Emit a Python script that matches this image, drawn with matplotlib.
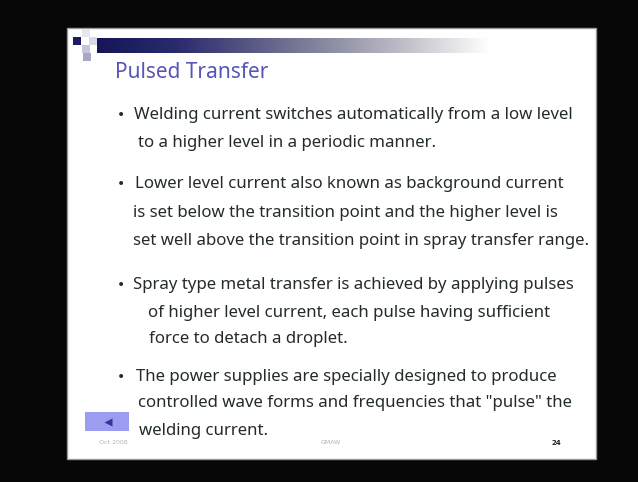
import numpy as np
import matplotlib.pyplot as plt
from matplotlib.colors import LinearSegmentedColormap
from matplotlib.patches import Rectangle

# ------------------------------------------
# Slide content
# ------------------------------------------
title = "Pulsed Transfer"

bullets = [
    ["Welding current switches automatically from a low level",
     "to a higher level in a periodic manner."],
    ["Lower level current also known as background current",
     "is set below the transition point and the higher level is",
     "set well above the transition point in spray transfer range."],
    ["Spray type metal transfer is achieved by applying pulses",
     "of higher level current, each pulse having sufficient",
     "force to detach a droplet."],
    ["The power supplies are specially designed to produce",
     "controlled wave forms and frequencies that \"pulse\" the",
     "welding current."],
]

# baselines (pixel rows) and left edges of each line
line_y = [[119, 147], [188, 217, 245], [289, 317, 343], [381, 407, 435]]
line_x = [[134, 138], [135, 133, 133], [133, 148, 149], [136, 138, 139]]

footer_left = "Oct 2008"
footer_mid = "GMAW"
page_no = "24"

# ------------------------------------------
# Figure in pixel coordinates
# ------------------------------------------
W, H = 638, 482
fig = plt.figure(figsize=(W / 100, H / 100), dpi=100, facecolor="#070707")
ax = fig.add_axes([0, 0, 1, 1])
ax.set_xlim(0, W)
ax.set_ylim(H, 0)
ax.axis("off")

# slide background
ax.add_patch(Rectangle((67, 28), 529, 431, facecolor="white", edgecolor="#9a9a9a", lw=1.0))

# decorative squares
squares = [
    ((73, 37), "#1c1c66"),
    ((82, 29), "#e6e6ee"),
    ((89, 37), "#d8d8e6"),
    ((82, 45), "#c4c4da"),
    ((83, 53), "#a6a6c6"),
]
for (sx, sy), c in squares:
    ax.add_patch(Rectangle((sx, sy), 8, 8, facecolor=c, edgecolor="none"))

# gradient header bar
cmap = LinearSegmentedColormap.from_list(
    "bar", ["#15155a", "#2a2a6e", "#5a5a86", "#8e8ea4", "#c4c4cc", "#ffffff"])
grad = np.linspace(0, 1, 256).reshape(1, -1)
ax.imshow(grad, cmap=cmap, aspect="auto", extent=(97, 490, 53, 38), zorder=2)

# title
ax.text(115, 78, title, fontsize=15, color="#5656b4", family="Noto Sans",
        va="baseline", ha="left")

# bullets
txt_color = "#242c26"
for lines, ys, xs in zip(bullets, line_y, line_x):
    ax.text(121, ys[0] - 4, "\u2022", fontsize=10, color=txt_color,
            va="center", ha="center", family="DejaVu Sans")
    for line, y, x in zip(lines, ys, xs):
        ax.text(x, y, line, fontsize=12.1, color=txt_color, family="Noto Sans",
                va="baseline", ha="left")

# nav button
ax.add_patch(Rectangle((85, 412), 44, 19, facecolor="#9c9cf0", edgecolor="none"))
ax.plot([108], [421.5], marker="<", markersize=6, color="#34349a", mec="none")

# footer
ax.text(99, 443, footer_left, fontsize=4.5, color="#aab8a8", va="center", ha="left")
ax.text(331, 443, footer_mid, fontsize=4.5, color="#aab8a8", va="center", ha="center")
ax.text(556, 443, page_no, fontsize=5, color="#222222", fontweight="bold",
        va="center", ha="center")

fig.savefig("out.png", dpi=100, facecolor=fig.get_facecolor())
